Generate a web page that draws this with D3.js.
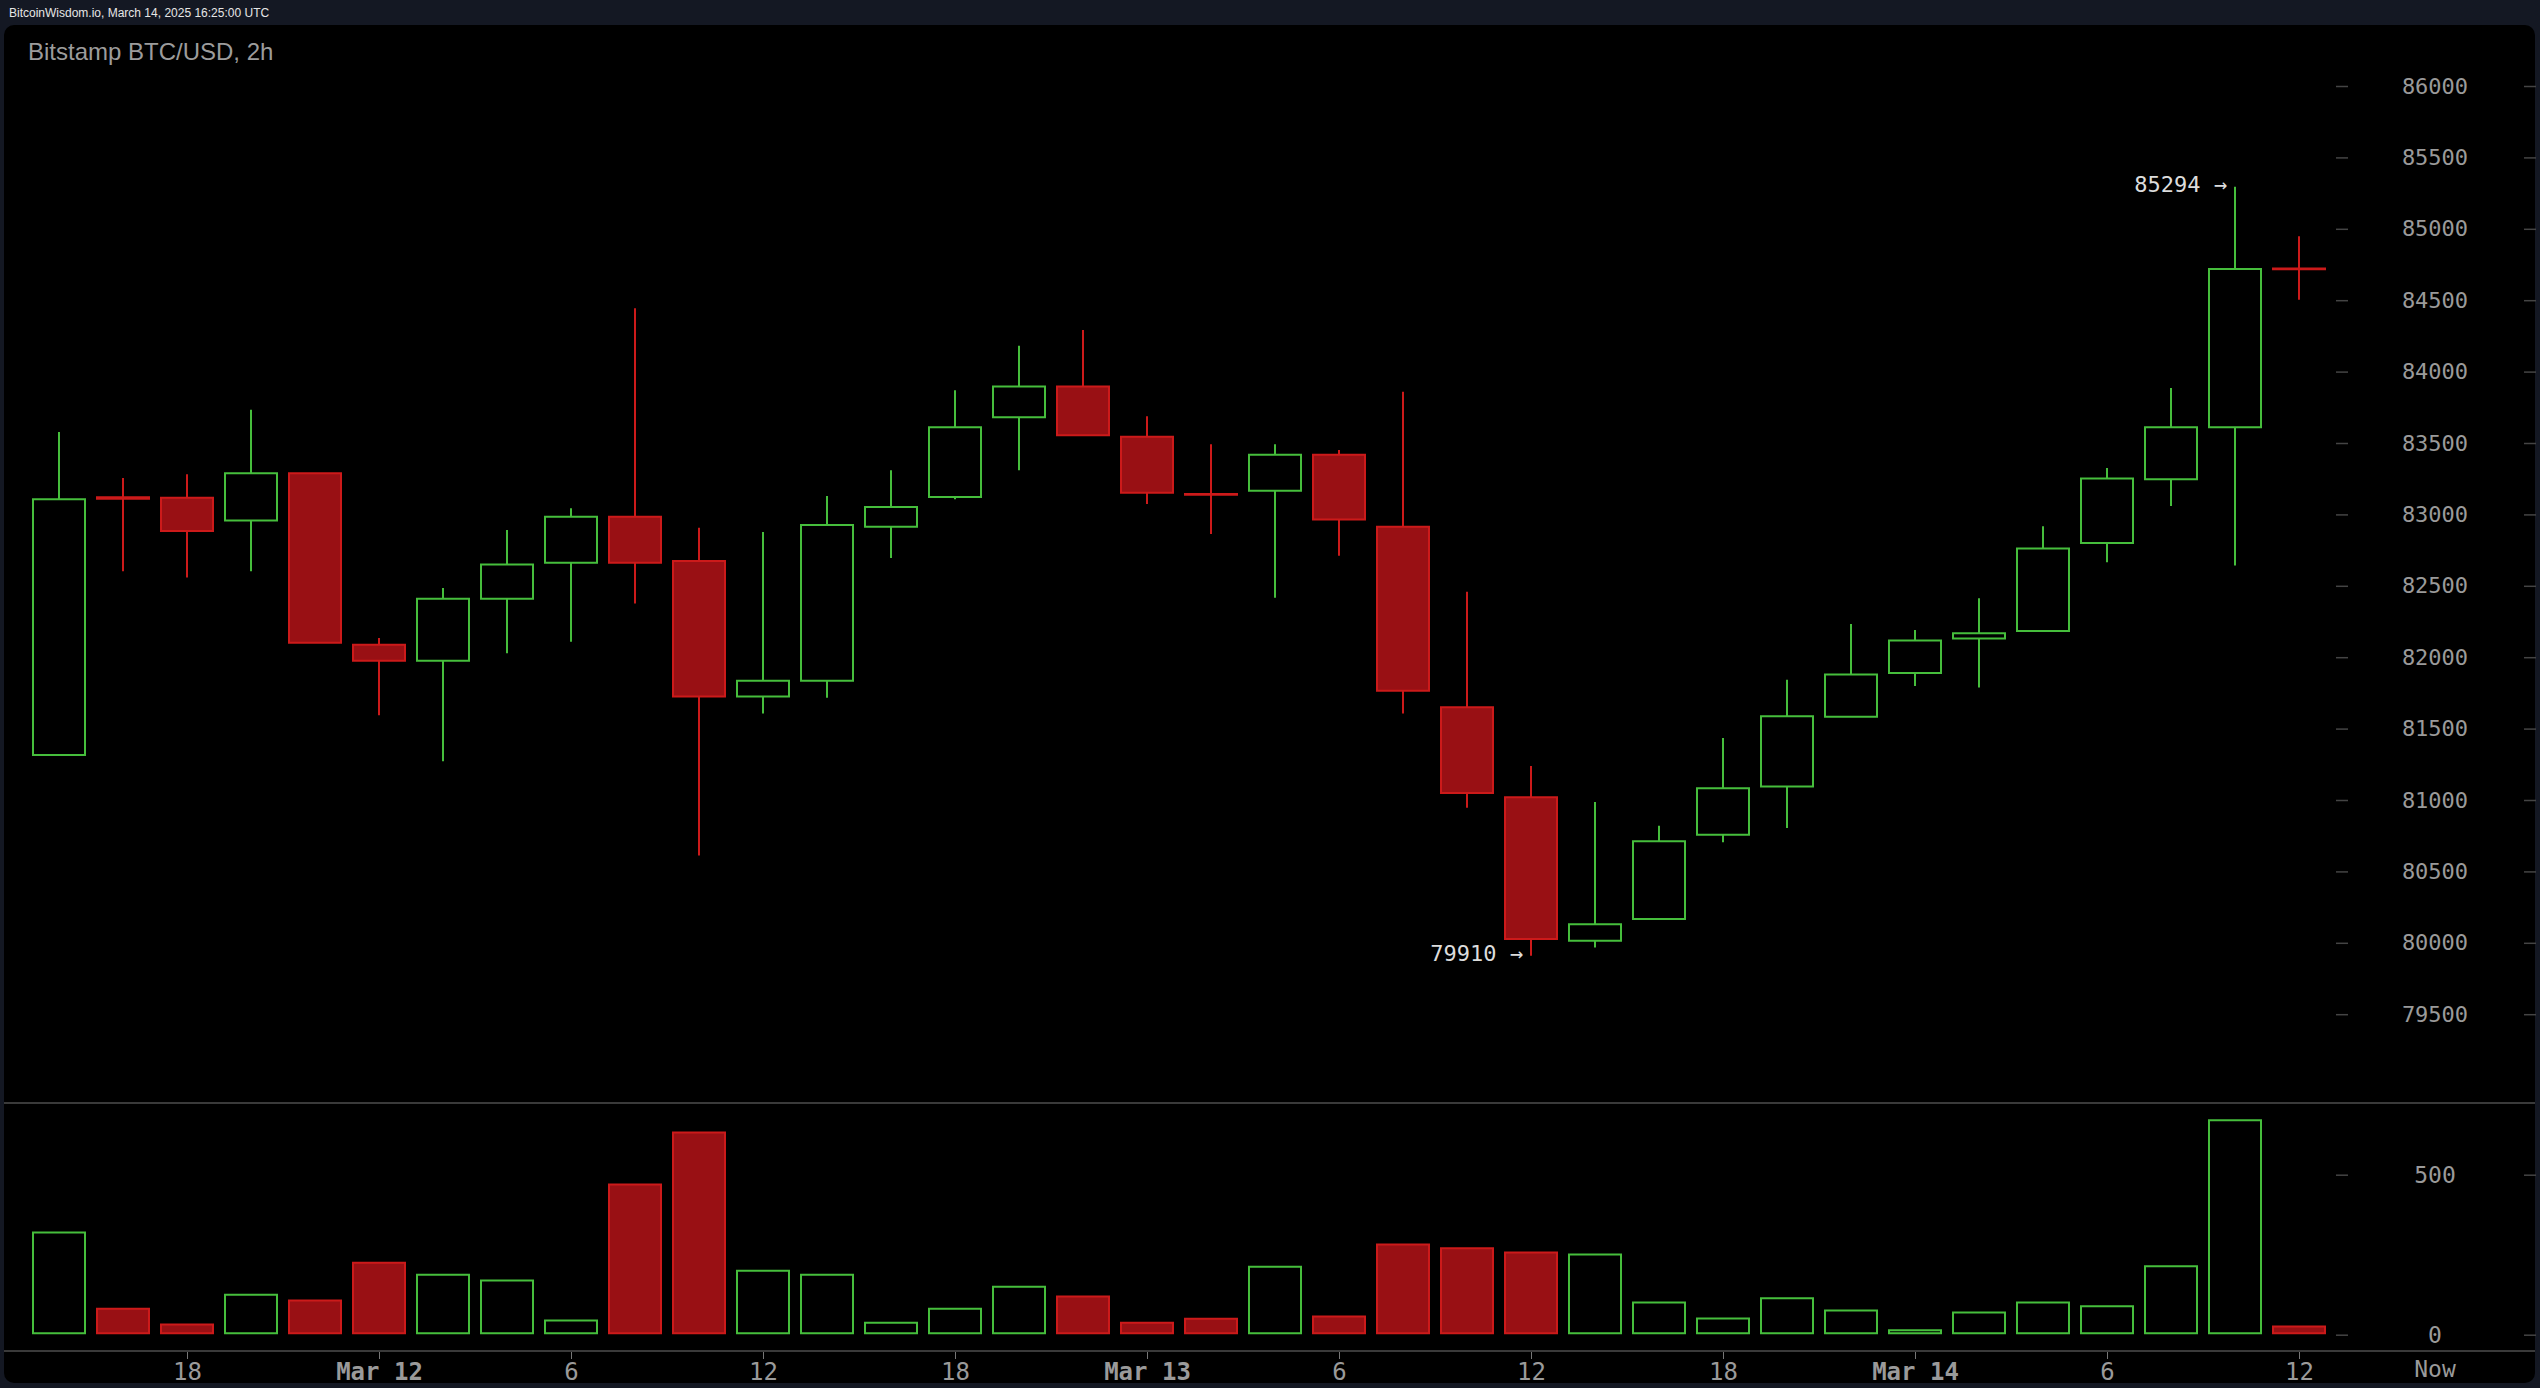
<!DOCTYPE html>
<html>
<head>
<meta charset="utf-8">
<script src="https://cdn.jsdelivr.net/npm/d3@7"></script>
<style>
  html, body { margin: 0; padding: 0; background: #141823; }
  svg { display: block; }
</style>
</head>
<body>
<svg id="chart" width="2540" height="1388"></svg>
<script>
// ---------------- DATA ----------------
const times = [
  "2025-03-11T14:00Z","2025-03-11T16:00Z","2025-03-11T18:00Z","2025-03-11T20:00Z","2025-03-11T22:00Z",
  "2025-03-12T00:00Z","2025-03-12T02:00Z","2025-03-12T04:00Z","2025-03-12T06:00Z","2025-03-12T08:00Z",
  "2025-03-12T10:00Z","2025-03-12T12:00Z","2025-03-12T14:00Z","2025-03-12T16:00Z","2025-03-12T18:00Z",
  "2025-03-12T20:00Z","2025-03-12T22:00Z","2025-03-13T00:00Z","2025-03-13T02:00Z","2025-03-13T04:00Z",
  "2025-03-13T06:00Z","2025-03-13T08:00Z","2025-03-13T10:00Z","2025-03-13T12:00Z","2025-03-13T14:00Z",
  "2025-03-13T16:00Z","2025-03-13T18:00Z","2025-03-13T20:00Z","2025-03-13T22:00Z","2025-03-14T00:00Z",
  "2025-03-14T02:00Z","2025-03-14T04:00Z","2025-03-14T06:00Z","2025-03-14T08:00Z","2025-03-14T10:00Z",
  "2025-03-14T12:00Z"
];
const opens  = [81316, 83120, 83117, 82958, 83288, 82087, 81976, 82409, 82661, 82984, 82673, 81724,
                81835, 82914, 83121, 83681, 83896, 83544, 83142, 83166, 83418, 82914, 81650, 81019,
                80015, 80167, 80756, 81094, 81583, 81890, 82131, 82183, 82799, 83247, 83610, 84722];
const highs  = [83577, 83255, 83281, 83733, 83288, 82135, 82484, 82891, 83043, 84444, 82906, 82876,
                83129, 83310, 83870, 84181, 84292, 83688, 83492, 83492, 83451, 83859, 82458, 81238,
                80986, 80819, 81435, 81842, 82232, 82191, 82413, 82917, 83325, 83885, 85294, 84948];
const lows   = [81310, 82602, 82558, 82602, 82102, 81594, 81271, 82028, 82109, 82376, 80612, 81605,
                81716, 82695, 83106, 83310, 83555, 83073, 82862, 82417, 82710, 81605, 80945, 79910,
                79967, 80167, 80704, 80804, 81583, 81798, 81787, 82183, 82665, 83058, 82643, 84504];
const closes = [83106, 83110, 82884, 83288, 82102, 81976, 82409, 82650, 82984, 82661, 81724, 81835,
                82925, 83051, 83610, 83896, 83555, 83151, 83138, 83418, 82965, 81765, 81049, 80026,
                80130, 80712, 81082, 81587, 81879, 82117, 82168, 82762, 83251, 83610, 84719, 84716];
const volumes = [319, 81, 32, 125, 107, 225, 187, 169, 44, 469, 632, 200,
                 187, 37, 81, 150, 119, 37, 50, 212, 57, 282, 270, 257,
                 251, 101, 51, 114, 76, 14, 69, 101, 89, 214, 670, 26];

const xTickTimes  = ["2025-03-11T18:00Z","2025-03-12T00:00Z","2025-03-12T06:00Z","2025-03-12T12:00Z",
                     "2025-03-12T18:00Z","2025-03-13T00:00Z","2025-03-13T06:00Z","2025-03-13T12:00Z",
                     "2025-03-13T18:00Z","2025-03-14T00:00Z","2025-03-14T06:00Z","2025-03-14T12:00Z"];
const xTickLabels = ["18","Mar 12","6","12","18","Mar 13","6","12","18","Mar 14","6","12"];
const priceTicks  = [79500, 80000, 80500, 81000, 81500, 82000, 82500, 83000, 83500, 84000, 84500, 85000, 85500, 86000];
const volumeTicks = [0, 500];

const headerText = "BitcoinWisdom.io, March 14, 2025 16:25:00 UTC";
const titleText  = "Bitstamp BTC/USD, 2h";

// ---------------- STYLE ----------------
const GREEN = "#46be3c";
const RED_STROKE = "#cc1a1a";
const RED_FILL = "#991014";
const AXIS_TEXT = "#9a9a9a";
const MONO = "'DejaVu Sans Mono', 'Liberation Mono', monospace";

const svg = d3.select("#chart");

// page background and panel
svg.append("rect").attr("x", 0).attr("y", 0).attr("width", 2540).attr("height", 1388).attr("fill", "#141823");
svg.append("rect").attr("x", 4).attr("y", 25).attr("width", 2531).attr("height", 1358)
   .attr("rx", 10).attr("ry", 10).attr("fill", "#000");

svg.append("text").attr("x", 9).attr("y", 17)
   .attr("font-family", "'Liberation Sans', Arial, sans-serif").attr("font-size", 12)
   .attr("fill", "#e6e6e6").text(headerText);

svg.append("text").attr("x", 28).attr("y", 60)
   .attr("font-family", "'Liberation Sans', Arial, sans-serif").attr("font-size", 24)
   .attr("fill", "#9c9c9c").text(titleText);

// ---------------- SCALES ----------------
const parse = d3.isoParse;
const T = times.map(parse);
const x = d3.scaleUtc().domain([T[0], T[T.length - 1]]).range([59, 2299]);
const y = d3.scaleLinear().domain([80000, 85000]).range([942.8, 228.8]);
const yv = d3.scaleLinear().domain([0, 500]).range([1334.7, 1174.7]);

const bodyW = 52;
const axisLabelX = 2435;

// ---------------- PRICE AXIS ----------------
const pAxis = d3.axisLeft(y).tickValues(priceTicks).tickSize(12).tickFormat("");
[2348, 2536].forEach(xx => {
  const g = svg.append("g").attr("transform", `translate(${xx},0)`).call(pAxis);
  g.select(".domain").remove();
  g.selectAll("line").attr("stroke", "#444").attr("stroke-width", 1.5);
});
svg.append("g").selectAll("text").data(priceTicks).join("text")
   .attr("x", axisLabelX).attr("y", d => y(d))
   .attr("text-anchor", "middle").attr("dominant-baseline", "central")
   .attr("font-family", MONO).attr("font-size", 22).attr("fill", AXIS_TEXT)
   .text(d => d);

// ---------------- CANDLES ----------------
const idx = d3.range(T.length);
const isUp = i => closes[i] >= opens[i];

const candles = svg.append("g");
idx.forEach(i => {
  const cx = Math.round(x(T[i]));
  const col = isUp(i) ? GREEN : RED_STROKE;
  const top = Math.max(opens[i], closes[i]);
  const bot = Math.min(opens[i], closes[i]);
  candles.append("line").attr("x1", cx).attr("x2", cx).attr("y1", y(highs[i])).attr("y2", y(top))
    .attr("stroke", col).attr("stroke-width", 2);
  candles.append("line").attr("x1", cx).attr("x2", cx).attr("y1", y(bot)).attr("y2", y(lows[i]))
    .attr("stroke", col).attr("stroke-width", 2);
});
candles.selectAll("path.body").data(idx).join("path")
  .attr("class", "body")
  .attr("d", i => {
    const cx = Math.round(x(T[i]));
    const x0 = cx - bodyW / 2, x1 = cx + bodyW / 2;
    const y0 = y(Math.max(opens[i], closes[i])), y1 = y(Math.min(opens[i], closes[i]));
    return `M${x0},${y0}H${x1}V${y1}H${x0}Z`;
  })
  .attr("fill", i => isUp(i) ? "none" : RED_FILL)
  .attr("stroke", i => isUp(i) ? GREEN : RED_STROKE)
  .attr("stroke-width", 2);

// ---------------- ANNOTATIONS ----------------
const iMax = d3.maxIndex(highs), iMin = d3.minIndex(lows);
[[iMax, highs[iMax]], [iMin, lows[iMin]]].forEach(([i, v]) => {
  svg.append("text").attr("x", x(T[i]) - 8).attr("y", y(v) - 2)
     .attr("text-anchor", "end").attr("dominant-baseline", "central")
     .attr("font-family", MONO).attr("font-size", 22).attr("fill", "#dcdcdc")
     .text(v + " \u2192");
});

// ---------------- VOLUME ----------------
svg.append("line").attr("x1", 4).attr("x2", 2535).attr("y1", 1103).attr("y2", 1103)
   .attr("stroke", "#3a3a3a").attr("stroke-width", 2);

const vAxis = d3.axisLeft(yv).tickValues(volumeTicks).tickSize(12).tickFormat("");
[2348, 2536].forEach(xx => {
  const g = svg.append("g").attr("transform", `translate(${xx},0)`).call(vAxis);
  g.select(".domain").remove();
  g.selectAll("line").attr("stroke", "#444").attr("stroke-width", 1.5);
});
svg.append("g").selectAll("text").data(volumeTicks).join("text")
   .attr("x", axisLabelX).attr("y", d => yv(d))
   .attr("text-anchor", "middle").attr("dominant-baseline", "central")
   .attr("font-family", MONO).attr("font-size", 23).attr("fill", AXIS_TEXT)
   .text(d => d);

svg.append("g").selectAll("path.vol").data(idx).join("path")
  .attr("class", "vol")
  .attr("d", i => {
    const cx = Math.round(x(T[i]));
    const x0 = cx - bodyW / 2, x1 = cx + bodyW / 2;
    const y0 = yv(volumes[i]), y1 = yv(0) - 1.5;
    return `M${x0},${y0}H${x1}V${y1}H${x0}Z`;
  })
  .attr("fill", i => isUp(i) ? "none" : RED_FILL)
  .attr("stroke", i => isUp(i) ? GREEN : RED_STROKE)
  .attr("stroke-width", 2);

// ---------------- TIME AXIS ----------------
const xAxis = d3.axisBottom(x).tickValues(xTickTimes.map(parse))
  .tickSize(8).tickPadding(4).tickFormat((d, i) => xTickLabels[i]);
const gx = svg.append("g").attr("transform", "translate(0,1351)").call(xAxis);
gx.select(".domain").remove();
gx.selectAll("line").attr("stroke", "#777").attr("stroke-width", 1);
gx.selectAll("text").attr("font-family", MONO).attr("font-size", 24).attr("fill", AXIS_TEXT)
  .attr("font-weight", (d, i) => xTickLabels[i].startsWith("Mar") ? "bold" : "normal");
svg.append("line").attr("x1", 4).attr("x2", 2535).attr("y1", 1351).attr("y2", 1351)
   .attr("stroke", "#3a3a3a").attr("stroke-width", 2);
svg.append("text").attr("x", axisLabelX).attr("y", 1369)
   .attr("text-anchor", "middle").attr("dominant-baseline", "central")
   .attr("font-family", MONO).attr("font-size", 23).attr("fill", AXIS_TEXT).text("Now");
</script>
</body>
</html>
